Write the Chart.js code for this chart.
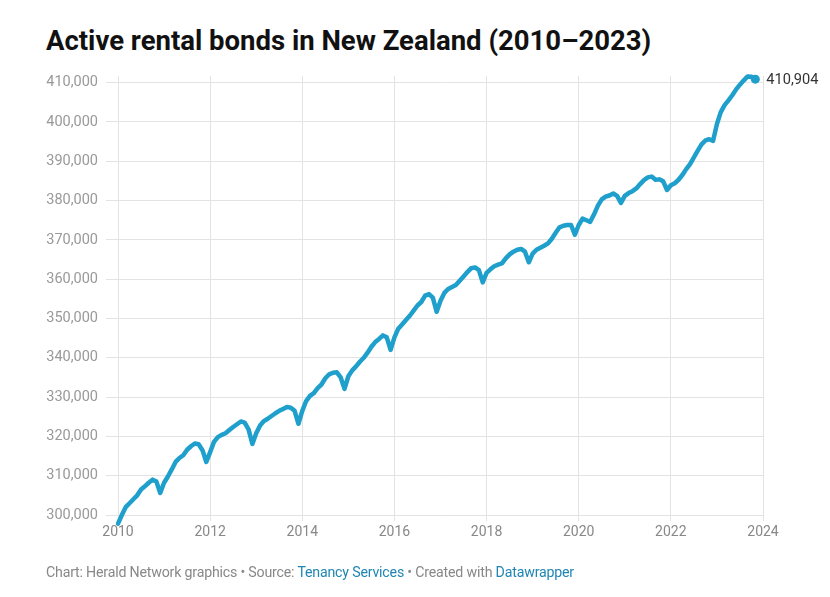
<!DOCTYPE html>
<html>
<head>
<meta charset="utf-8">
<script src="https://cdn.jsdelivr.net/npm/chart.js@4/dist/chart.umd.min.js"></script>
<style>
  html, body { margin: 0; padding: 0; background: #fff; }
  body { width: 830px; height: 597px; position: relative; overflow: hidden; font-family: Roboto, sans-serif; }
  #title { position: absolute; left: 46px; top: 24px; font: bold 27.5px Roboto, sans-serif; color: #111; letter-spacing: 0; white-space: nowrap; }
  #footer { position: absolute; left: 46px; top: 564px; font: 14.2px Roboto, sans-serif; color: #888; white-space: nowrap; letter-spacing: -0.2px; }
  #footer span { color: #1f86b3; }
  #wrap { position: absolute; left: 0; top: 0; width: 830px; height: 597px; }
</style>
</head>
<body>
<div id="title">Active rental bonds in New Zealand (2010–2023)</div>
<div id="wrap"><canvas id="c" width="830" height="597"></canvas></div>
<div id="footer">Chart: Herald Network graphics • Source: <span>Tenancy Services</span> • Created with <span>Datawrapper</span></div>
<script>
// Monthly active rental bonds, Jan 2010 – Nov 2023
const startYear = 2010;
const bonds2010 = [297800, 300000, 302000, 303000, 304000, 305000, 306500, 307300, 308200, 309000, 308500, 305600];
const bonds2011 = [308200, 309800, 311600, 313500, 314500, 315200, 316600, 317500, 318200, 318000, 316500, 313500];
const bonds2012 = [316000, 318600, 319800, 320400, 320800, 321600, 322400, 323100, 323800, 323500, 321800, 318100];
const bonds2013 = [320800, 322800, 323900, 324500, 325200, 325900, 326500, 327000, 327500, 327300, 326500, 323200];
const bonds2014 = [326500, 329000, 330300, 331000, 332300, 333200, 334800, 335800, 336200, 336300, 335000, 332100];
const bonds2015 = [335300, 336800, 337800, 339000, 340000, 341300, 342800, 344000, 344800, 345700, 345200, 342000];
const bonds2016 = [345200, 347400, 348500, 349600, 350700, 352000, 353300, 354200, 355800, 356200, 355300, 351700];
const bonds2017 = [354500, 356500, 357500, 358000, 358500, 359600, 360700, 361800, 362800, 363000, 362300, 359200];
const bonds2018 = [361600, 362500, 363300, 363700, 364000, 365300, 366300, 367000, 367500, 367700, 367000, 364300];
const bonds2019 = [366500, 367500, 368000, 368500, 369100, 370300, 371800, 373200, 373600, 373800, 373800, 371300];
const bonds2020 = [373800, 375400, 375000, 374600, 376500, 378700, 380300, 381000, 381300, 381800, 381200, 379400];
const bonds2021 = [381200, 381900, 382400, 383100, 384200, 385200, 385900, 386100, 385300, 385400, 384900, 382700];
const bonds2022 = [383900, 384400, 385300, 386500, 388000, 389300, 391000, 392700, 394300, 395300, 395600, 395200];
const bonds2023 = [399500, 402500, 404300, 405500, 406800, 408300, 409500, 410600, 411600, 411500, 410904];
const yTicks = [300000, 310000, 320000, 330000, 340000, 350000, 360000, 370000, 380000, 390000, 400000, 410000];
const xTicks = [2010, 2012, 2014, 2016, 2018, 2020, 2022, 2024];

const values = [].concat(bonds2010, bonds2011, bonds2012, bonds2013, bonds2014, bonds2015, bonds2016,
  bonds2017, bonds2018, bonds2019, bonds2020, bonds2021, bonds2022, bonds2023);
const points = values.map((v, i) => ({ x: startYear + i / 12, y: v }));
const last = points.length - 1;

const endLabel = {
  id: 'endLabel',
  afterDatasetsDraw(chart) {
    const meta = chart.getDatasetMeta(0);
    const p = meta.data[last];
    const ctx = chart.ctx;
    ctx.save();
    ctx.font = '14.6px Roboto, sans-serif';
    ctx.fillStyle = '#333';
    ctx.textBaseline = 'middle';
    ctx.textAlign = 'left';
    ctx.fillText(values[last].toLocaleString('en-US'), p.x + 11, p.y + 1);
    ctx.restore();
  }
};

new Chart(document.getElementById('c'), {
  type: 'line',
  data: {
    datasets: [{
      data: points,
      borderColor: '#1f9fcb',
      backgroundColor: '#1f9fcb',
      borderWidth: 4.5,
      borderCapStyle: 'round',
      borderJoinStyle: 'round',
      tension: 0,
      clip: false,
      pointRadius: points.map((p, i) => i === last ? 4.5 : 0),
      pointHoverRadius: 0,
      pointBorderWidth: 0
    }]
  },
  options: {
    responsive: false,
    animation: false,
    events: [],
    layout: { padding: { left: 0, right: 67, top: 76, bottom: 52 } },
    plugins: { legend: { display: false }, tooltip: { enabled: false }, title: { display: false } },
    scales: {
      x: {
        type: 'linear',
        min: 2010,
        max: 2024,
        afterBuildTicks: s => { s.ticks = xTicks.map(v => ({ value: v })); },
        afterFit: s => { s.height = 30; },
        grid: { color: '#e3e3e3', lineWidth: 1, tickLength: 6, drawOnChartArea: true },
        border: { display: false },
        ticks: {
          color: '#888',
          font: { family: 'Roboto', size: 14 },
          padding: 3,
          maxRotation: 0,
          callback: v => String(v)
        }
      },
      y: {
        type: 'linear',
        min: 300000,
        max: 411700,
        afterBuildTicks: s => { s.ticks = yTicks.map(v => ({ value: v })); },
        afterFit: s => { s.width = 118; },
        grid: { color: '#e3e3e3', lineWidth: 1, tickLength: 12 },
        border: { display: false },
        ticks: {
          color: '#999',
          font: { family: 'Roboto', size: 14.5 },
          padding: 8,
          callback: v => v.toLocaleString('en-US')
        }
      }
    }
  },
  plugins: [endLabel]
});
</script>
</body>
</html>
